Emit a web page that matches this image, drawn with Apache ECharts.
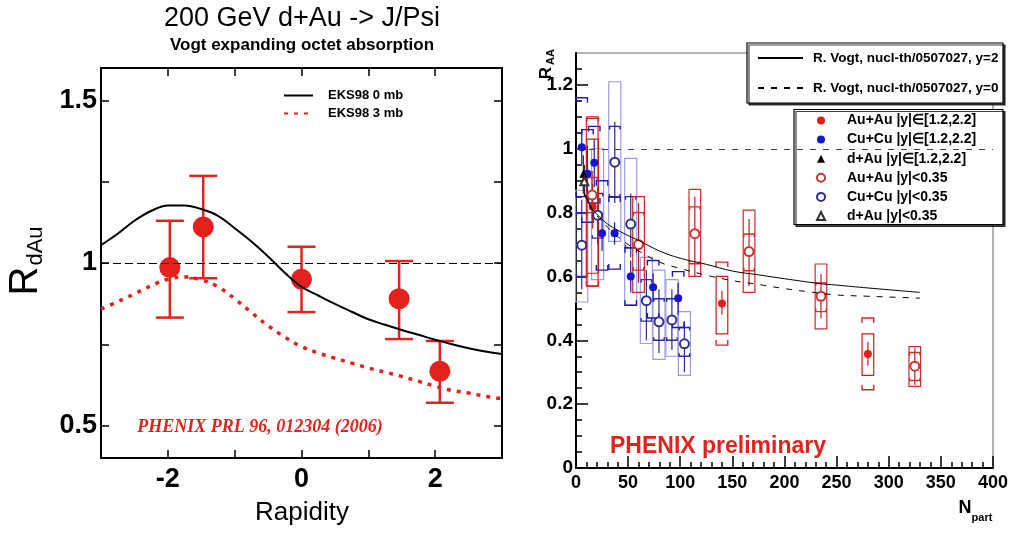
<!DOCTYPE html>
<html><head><meta charset="utf-8">
<script src="https://cdn.jsdelivr.net/npm/echarts@6/dist/echarts.min.js"></script>
<style>html,body{margin:0;padding:0;background:#fff}#c{width:1011px;height:540px}</style>
</head><body><div id="c"></div>
<script>
// ---------- Left panel: d+Au R_dAu vs rapidity ----------
const rapidity = [-1.97, -1.47, 0.0, 1.46, 2.07];
const rdAu     = [0.986, 1.111, 0.95, 0.89, 0.667];
const rdAuHi   = [1.13, 1.268, 1.05, 1.006, 0.76];
const rdAuLo   = [0.832, 0.953, 0.849, 0.766, 0.57];
const curveX   = [-3, -2.75, -2.5, -2.25, -2, -1.75, -1.5, -1.25, -1, -0.75, -0.5, -0.25, 0, 0.25, 0.5, 0.75, 1, 1.25, 1.5, 1.75, 2, 2.25, 2.5, 2.75, 3];
const eks0mb   = [1.055, 1.09, 1.13, 1.16, 1.177, 1.177, 1.166, 1.145, 1.107, 1.066, 1.02, 0.97, 0.927, 0.9, 0.874, 0.85, 0.827, 0.81, 0.794, 0.779, 0.764, 0.75, 0.738, 0.728, 0.72];
const eks3mb   = [0.858, 0.881, 0.905, 0.93, 0.95, 0.957, 0.948, 0.927, 0.89, 0.848, 0.807, 0.772, 0.743, 0.723, 0.707, 0.692, 0.677, 0.664, 0.651, 0.636, 0.621, 0.608, 0.6, 0.59, 0.582];
const leftYTicks = [0.5, 0.75, 1, 1.25, 1.5];
const leftYLabels = [0.5, 1, 1.5];

// ---------- Right panel: R_AA vs Npart ----------
const vogtN  = [8, 15, 20, 30, 40, 50, 60, 80, 100, 125, 150, 175, 200, 233, 250, 280, 305, 330];
const vogtY2 = [0.86, 0.815, 0.795, 0.765, 0.745, 0.728, 0.713, 0.68, 0.657, 0.638, 0.617, 0.605, 0.593, 0.578, 0.573, 0.564, 0.557, 0.55];
const vogtY0 = [0.86, 0.81, 0.79, 0.755, 0.725, 0.70, 0.68, 0.645, 0.625, 0.604, 0.587, 0.575, 0.562, 0.548, 0.542, 0.538, 0.535, 0.532];
// rows: [Npart, R, statLo, statHi, capLo, capHi, boxLo, boxHi]
const auFwd = [
  [16, 0.818, 0.75, 0.89, 0.57, 1.10, 0.61, 1.03],
  [140, 0.515, 0.48, 0.555, 0.385, 0.645, 0.42, 0.60],
  [280, 0.357, 0.32, 0.395, 0.245, 0.47, 0.29, 0.42]
];
const auMid = [
  [15.5, 0.855, 0.78, 0.93, 0.80, 0.91, 0.57, 1.095],
  [60, 0.70, 0.58, 0.83, 0.62, 0.80, 0.55, 0.85],
  [114, 0.734, 0.60, 0.85, 0.64, 0.818, 0.60, 0.873],
  [166, 0.678, 0.57, 0.78, 0.618, 0.733, 0.55, 0.808],
  [235, 0.538, 0.468, 0.608, 0.49, 0.58, 0.436, 0.639],
  [325, 0.319, 0.26, 0.375, 0.274, 0.362, 0.256, 0.38]
];
// rows: [Npart, R, statLo, statHi, capLo, capHi]
const cuFwd = [
  [5.5, 1.005, 0.95, 1.06, 0.85, 1.16],
  [11, 0.922, 0.83, 1.01, 0.77, 1.06],
  [17.5, 0.956, 0.88, 1.03, 0.83, 1.07],
  [25, 0.735, 0.68, 0.80, 0.62, 0.90],
  [37, 0.735, 0.70, 0.77, 0.623, 0.849],
  [52.5, 0.60, 0.55, 0.65, 0.51, 0.69],
  [74, 0.566, 0.52, 0.61, 0.47, 0.65],
  [98, 0.532, 0.48, 0.58, 0.44, 0.615]
];
const cuMid = [
  [5.5, 0.698, 0.56, 0.84, 0.60, 0.80, 0.52, 0.87],
  [20.7, 0.792, 0.70, 0.88, 0.72, 0.86, 0.59, 1.00],
  [37.2, 0.958, 0.83, 1.085, 0.849, 1.07, 0.71, 1.21],
  [52.5, 0.764, 0.66, 0.86, 0.69, 0.85, 0.51, 0.97],
  [67.5, 0.524, 0.40, 0.62, 0.46, 0.59, 0.39, 0.66],
  [79.6, 0.458, 0.36, 0.56, 0.40, 0.53, 0.34, 0.62],
  [92, 0.464, 0.37, 0.56, 0.40, 0.53, 0.35, 0.59],
  [104, 0.389, 0.30, 0.46, 0.35, 0.44, 0.29, 0.49]
];
// rows: [Npart, R, statLo, statHi]
const dAuFwd = [[7, 0.922, 0.86, 0.98]];
const dAuMid = [[8, 0.898, 0.85, 0.95]];
const rightYMajor = [0, 0.2, 0.4, 0.6, 0.8, 1, 1.2];
const rightYMinor = [0.05, 0.1, 0.15, 0.25, 0.3, 0.35, 0.45, 0.5, 0.55, 0.65, 0.7, 0.75, 0.85, 0.9, 0.95, 1.05, 1.1, 1.15, 1.25];

const FONT = '"Liberation Sans", Arial, sans-serif';
const RED = '#e4221d';
const CLEAR = 'rgba(0,0,0,0)';
const nameAuF = 'Au+Au |y|\u2208[1.2,2.2]';
const nameCuF = 'Cu+Cu |y|\u2208[1.2,2.2]';
const namedF  = 'd+Au |y|\u2208[1.2,2.2]';
const nameAuM = 'Au+Au |y|<0.35';
const nameCuM = 'Cu+Cu |y|<0.35';
const namedM  = 'd+Au |y|<0.35';
const vogt2 = 'R. Vogt, nucl-th/0507027, y=2';
const vogt0 = 'R. Vogt, nucl-th/0507027, y=0';

function zip(a, b) { return a.map((v, i) => [v, b[i]]); }

function errRender(o) {
  return function (params, api) {
    const n = api.value(0);
    const P = (x, y) => api.coord([x, y]);
    const ch = [];
    if (o.box) {
      const a = P(n - o.hw, api.value(7)), b = P(n + o.hw, api.value(6));
      ch.push({type: 'rect', shape: {x: a[0], y: a[1], width: b[0] - a[0], height: b[1] - a[1]},
        style: {fill: 'none', stroke: o.boxColor, lineWidth: 1.2}});
    }
    const s1 = P(n, api.value(2)), s2 = P(n, api.value(3));
    ch.push({type: 'line', shape: {x1: s1[0], y1: s1[1], x2: s2[0], y2: s2[1]}, style: {stroke: o.statColor, lineWidth: 1.2}});
    if (o.caps) {
      [[4, -1], [5, 1]].forEach(([idx, dir]) => {
        const v = api.value(idx);
        const l = P(n - o.capHw, v), r = P(n + o.capHw, v);
        const t = dir * o.tick;
        ch.push({type: 'polyline', shape: {points: [[l[0], l[1] + t], [l[0], l[1]], [r[0], r[1]], [r[0], r[1] + t]]},
          style: {fill: 'none', stroke: o.capColor, lineWidth: 1.4}});
      });
    }
    return {type: 'group', children: ch};
  };
}

const chart = echarts.init(document.getElementById('c'));
const axisLineBlack = {show: true, onZero: false, lineStyle: {color: '#000', width: 2}};

chart.setOption({
  animation: false,
  textStyle: {fontFamily: FONT},
  grid: [
    {left: 101, top: 68, width: 401, height: 390, show: false},
    {left: 576, top: 53, width: 419, height: 415, show: true, borderColor: '#666', borderWidth: 1, backgroundColor: 'transparent'}
  ],
  xAxis: [
    {gridIndex: 0, type: 'value', min: -3, max: 3, interval: 1, position: 'bottom',
     axisLine: axisLineBlack, axisTick: {inside: true, length: 8, lineStyle: {color: '#000', width: 1.5}},
     axisLabel: {formatter: v => (Math.abs(v) % 2 === 0 ? String(v) : ''), fontSize: 27, fontWeight: 'bold', color: '#000', margin: 8},
     splitLine: {show: false}},
    {gridIndex: 0, type: 'value', min: -3, max: 3, interval: 1, position: 'top',
     axisLine: axisLineBlack, axisTick: {inside: true, length: 8, lineStyle: {color: '#000', width: 1.5}},
     axisLabel: {show: false}, splitLine: {show: false}},
    {gridIndex: 1, type: 'value', min: 0, max: 400, interval: 50, position: 'bottom',
     axisLine: axisLineBlack, axisTick: {inside: true, length: 12, lineStyle: {color: '#000', width: 1.5}},
     minorTick: {show: true, splitNumber: 5, length: 6, lineStyle: {color: '#000', width: 1.5}},
     axisLabel: {fontSize: 18, fontWeight: 'bold', color: '#000', margin: 6},
     splitLine: {show: false}, minorSplitLine: {show: false}}
  ],
  yAxis: [
    {gridIndex: 0, type: 'value', min: 0.4, max: 1.6, position: 'left',
     axisLine: axisLineBlack, axisTick: {inside: true, length: 8, customValues: leftYTicks, lineStyle: {color: '#000', width: 1.5}},
     axisLabel: {customValues: leftYLabels, fontSize: 27, fontWeight: 'bold', color: '#000', margin: 4},
     splitLine: {show: false}},
    {gridIndex: 0, type: 'value', min: 0.4, max: 1.6, position: 'right',
     axisLine: axisLineBlack, axisTick: {inside: true, length: 8, customValues: leftYTicks, lineStyle: {color: '#000', width: 1.5}},
     axisLabel: {show: false}, splitLine: {show: false}},
    {gridIndex: 1, type: 'value', min: 0, max: 1.3, position: 'left',
     axisLine: axisLineBlack, axisTick: {inside: true, length: 12, customValues: rightYMajor, lineStyle: {color: '#000', width: 1.5}},
     axisLabel: {customValues: rightYMajor, fontSize: 19, fontWeight: 'bold', color: '#000', margin: 3},
     splitLine: {show: false}},
    {gridIndex: 1, type: 'value', min: 0, max: 1.3, position: 'left',
     axisLine: {show: false, onZero: false}, axisTick: {inside: true, length: 6, customValues: rightYMinor, lineStyle: {color: '#000', width: 1.5}},
     axisLabel: {show: false}, splitLine: {show: false}}
  ],
  legend: [
    {data: ['EKS98 0 mb', 'EKS98 3 mb'], orient: 'vertical', left: 283, top: 89, itemWidth: 29, itemHeight: 12, itemGap: 5,
     padding: 0, selectedMode: false, textStyle: {fontSize: 13, fontWeight: 'bold', color: '#000', padding: [0, 0, 0, 10]}},
    {data: [vogt2, vogt0], orient: 'vertical', left: 757, top: 51, itemWidth: 45, itemHeight: 14, itemGap: 16,
     padding: 0, selectedMode: false, textStyle: {fontSize: 13.5, fontWeight: 'bold', color: '#000', padding: [0, 0, 0, 5]}},
    {data: [nameAuF, nameCuF, namedF, nameAuM, nameCuM, namedM], orient: 'vertical', left: 816, top: 113.5, itemWidth: 8, itemHeight: 8, itemGap: 5.1,
     padding: 0, selectedMode: false, textStyle: {fontSize: 14, fontWeight: 'bold', color: '#000', padding: [0, 0, 0, 17]}}
  ],
  graphic: {
    elements: [
      {type: 'rect', z: 3, shape: {x: 747, y: 43, width: 256, height: 60}, style: {fill: '#fff', stroke: '#000', lineWidth: 1.2, shadowColor: 'rgba(0,0,0,0.75)', shadowOffsetX: 2, shadowOffsetY: 2, shadowBlur: 0}},
      {type: 'rect', z: 3, shape: {x: 794, y: 109.5, width: 209, height: 115}, style: {fill: '#fff', stroke: '#000', lineWidth: 1.2, shadowColor: 'rgba(0,0,0,0.75)', shadowOffsetX: 2, shadowOffsetY: 2, shadowBlur: 0}},
      {type: 'text', x: 302, y: 19, style: {text: '200 GeV d+Au -> J/Psi', font: '27px ' + FONT, align: 'center', verticalAlign: 'middle', fill: '#000'}},
      {type: 'text', x: 302, y: 45, style: {text: 'Vogt expanding octet absorption', font: 'bold 17px ' + FONT, align: 'center', verticalAlign: 'middle', fill: '#000'}},
      {type: 'text', x: 302, y: 513, style: {text: 'Rapidity', font: '26px ' + FONT, align: 'center', verticalAlign: 'middle', fill: '#000'}},
      {type: 'text', x: 26, y: 281, rotation: Math.PI / 2, style: {text: 'R', font: '40px ' + FONT, align: 'center', verticalAlign: 'middle', fill: '#000'}},
      {type: 'text', x: 36, y: 246, rotation: Math.PI / 2, style: {text: 'dAu', font: '22px ' + FONT, align: 'center', verticalAlign: 'middle', fill: '#000'}},
      {type: 'text', x: 260, y: 427, style: {text: 'PHENIX PRL 96, 012304 (2006)', font: 'italic bold 18px "Liberation Serif", "Times New Roman", serif', align: 'center', verticalAlign: 'middle', fill: RED}},
      {type: 'text', x: 546, y: 73, rotation: Math.PI / 2, style: {text: 'R', font: 'bold 17px ' + FONT, align: 'center', verticalAlign: 'middle', fill: '#000'}},
      {type: 'text', x: 551, y: 57, rotation: Math.PI / 2, style: {text: 'AA', font: 'bold 11px ' + FONT, align: 'center', verticalAlign: 'middle', fill: '#000'}},
      {type: 'text', x: 965, y: 508, style: {text: 'N', font: 'bold 18px ' + FONT, align: 'center', verticalAlign: 'middle', fill: '#000'}},
      {type: 'text', x: 982, y: 518, style: {text: 'part', font: 'bold 11px ' + FONT, align: 'center', verticalAlign: 'middle', fill: '#000'}},
      {type: 'text', x: 718, y: 447, style: {text: 'PHENIX preliminary', font: 'bold 23px ' + FONT, align: 'center', verticalAlign: 'middle', fill: RED}}
    ]
  },
  series: [
    // ---- left ----
    {name: 'EKS98 0 mb', type: 'line', xAxisIndex: 0, yAxisIndex: 0, data: zip(curveX, eks0mb), smooth: 0.4, symbol: 'none',
     lineStyle: {color: '#000', width: 2}, itemStyle: {color: CLEAR, borderColor: CLEAR, borderWidth: 0},
     markLine: {silent: true, symbol: 'none', label: {show: false}, lineStyle: {color: '#000', width: 1, type: [8, 4]}, data: [{yAxis: 1}]}},
    {name: 'EKS98 3 mb', type: 'line', xAxisIndex: 0, yAxisIndex: 0, data: zip(curveX, eks3mb), smooth: 0.4, symbol: 'none',
     lineStyle: {color: RED, width: 3.5, type: [4, 6]}, itemStyle: {color: CLEAR, borderColor: CLEAR, borderWidth: 0}},
    {type: 'custom', xAxisIndex: 0, yAxisIndex: 0, data: rapidity.map((x, i) => [x, rdAuLo[i], rdAuHi[i]]),
     encode: {x: 0, y: [1, 2]},
     renderItem: function (params, api) {
       const lo = api.coord([api.value(0), api.value(1)]), hi = api.coord([api.value(0), api.value(2)]);
       const st = {stroke: RED, lineWidth: 2.5};
       return {type: 'group', children: [
         {type: 'line', shape: {x1: lo[0], y1: lo[1], x2: hi[0], y2: hi[1]}, style: st},
         {type: 'line', shape: {x1: lo[0] - 14, y1: lo[1], x2: lo[0] + 14, y2: lo[1]}, style: st},
         {type: 'line', shape: {x1: hi[0] - 14, y1: hi[1], x2: hi[0] + 14, y2: hi[1]}, style: st}
       ]};
     }},
    {name: 'PHENIX d+Au', type: 'scatter', xAxisIndex: 0, yAxisIndex: 0, data: zip(rapidity, rdAu), symbol: 'circle', symbolSize: 21,
     itemStyle: {color: RED, opacity: 1}},
    // ---- right ----
    {name: vogt2, type: 'line', xAxisIndex: 2, yAxisIndex: 2, data: zip(vogtN, vogtY2), smooth: 0.4, symbol: 'none',
     lineStyle: {color: '#000', width: 1}, itemStyle: {color: CLEAR, borderColor: CLEAR, borderWidth: 0},
     markLine: {silent: true, symbol: 'none', label: {show: false}, lineStyle: {color: '#444', width: 1, type: [6, 7]}, data: [{yAxis: 1}]}},
    {name: vogt0, type: 'line', xAxisIndex: 2, yAxisIndex: 2, data: zip(vogtN, vogtY0), smooth: 0.4, symbol: 'none',
     lineStyle: {color: '#000', width: 1, type: [6, 7]}, itemStyle: {color: CLEAR, borderColor: CLEAR, borderWidth: 0}},
    {type: 'custom', xAxisIndex: 2, yAxisIndex: 2, data: cuMid, encode: {x: 0, y: 1},
     renderItem: errRender({box: true, hw: 5.8, boxColor: '#9c9ce6', statColor: '#2a2aa0', caps: true, capHw: 5, capColor: '#2a2aa0', tick: 3})},
    {type: 'custom', xAxisIndex: 2, yAxisIndex: 2, data: cuFwd, encode: {x: 0, y: 1},
     renderItem: errRender({box: false, statColor: '#1a1ab0', caps: true, capHw: 5.5, capColor: '#1a1ab0', tick: 5})},
    {type: 'custom', xAxisIndex: 2, yAxisIndex: 2, data: auMid, encode: {x: 0, y: 1},
     renderItem: errRender({box: true, hw: 5.6, boxColor: '#d02a2a', statColor: '#c02020', caps: true, capHw: 5, capColor: '#d02a2a', tick: 3})},
    {type: 'custom', xAxisIndex: 2, yAxisIndex: 2, data: auFwd, encode: {x: 0, y: 1},
     renderItem: errRender({box: true, hw: 5.6, boxColor: '#c02020', statColor: '#c02020', caps: true, capHw: 5.6, capColor: '#d02a2a', tick: 5})},
    {type: 'custom', xAxisIndex: 2, yAxisIndex: 2, data: dAuFwd.concat(dAuMid), encode: {x: 0, y: 1},
     renderItem: errRender({box: false, statColor: '#222', caps: false})},
    {name: nameCuM, type: 'scatter', xAxisIndex: 2, yAxisIndex: 2, data: cuMid.map(r => [r[0], r[1]]), symbol: 'emptyCircle', symbolSize: 9,
     itemStyle: {color: '#303090', borderWidth: 1, opacity: 1}},
    {name: nameAuM, type: 'scatter', xAxisIndex: 2, yAxisIndex: 2, data: auMid.map(r => [r[0], r[1]]), symbol: 'emptyCircle', symbolSize: 9,
     itemStyle: {color: '#c83434', borderWidth: 1, opacity: 1}},
    {name: nameCuF, type: 'scatter', xAxisIndex: 2, yAxisIndex: 2, data: cuFwd.map(r => [r[0], r[1]]), symbol: 'circle', symbolSize: 8,
     itemStyle: {color: '#1414d2', opacity: 1}},
    {name: nameAuF, type: 'scatter', xAxisIndex: 2, yAxisIndex: 2, data: auFwd.map(r => [r[0], r[1]]), symbol: 'circle', symbolSize: 8,
     itemStyle: {color: '#e41c1c', opacity: 1}},
    {name: namedF, type: 'scatter', xAxisIndex: 2, yAxisIndex: 2, data: dAuFwd.map(r => [r[0], r[1]]), symbol: 'triangle', symbolSize: 8,
     itemStyle: {color: '#000', opacity: 1}},
    {name: namedM, type: 'scatter', xAxisIndex: 2, yAxisIndex: 2, data: dAuMid.map(r => [r[0], r[1]]), symbol: 'emptyTriangle', symbolSize: 8,
     itemStyle: {color: '#333', borderWidth: 1, opacity: 1}}
  ]
});
</script>
</body></html>
